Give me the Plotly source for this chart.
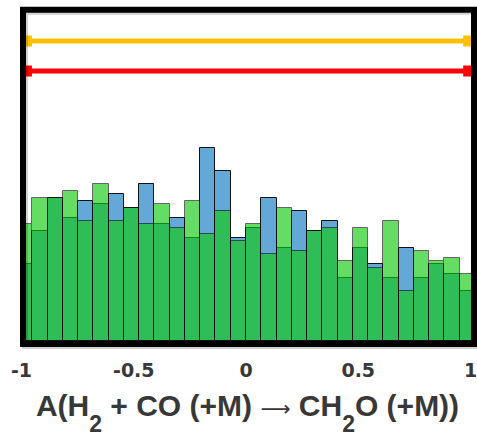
import plotly.graph_objects as go

# Histogram bins: 30 bins spanning [-1.02, 1.02]
bin_width = 0.068
bin_centers = [round(-1.02 + bin_width / 2 + i * bin_width, 4) for i in range(30)]

# Sample counts per bin for the two distributions (1000 samples each)
counts_blue = [23, 33, 43, 37, 42, 41, 44, 40, 47, 35,
               37, 31, 58, 51, 31, 34, 43, 28, 39, 33,
               36, 19, 28, 23, 19, 28, 19, 23, 20, 15]
counts_green = [35, 43, 43, 45, 36, 47, 36, 40, 35, 41,
                34, 42, 32, 39, 30, 35, 26, 40, 27, 33,
                34, 24, 34, 22, 36, 15, 27, 24, 25, 20]

# Uncertainty ranges drawn as horizontal bars above the histogram
range_gold_x = [-0.978, 0.992]
range_gold_y = [90, 90]
range_red_x = [-0.978, 0.992]
range_red_y = [81, 81]

x_ticks = [-1, -0.5, 0, 0.5, 1]
x_tick_text = ["-1", "-0.5", "0", "0.5", "1"]

sub2 = '<span style="font-size:23px;baseline-shift:-16px">2</span>'
arrow = '<span style="font-family:DejaVu Sans;font-weight:normal;font-size:21px">\u27f6</span>'
x_title = "A(H" + sub2 + " + CO (+M) " + arrow + " CH" + sub2 + "O (+M))"

fig = go.Figure()

fig.add_trace(go.Bar(
    x=bin_centers, y=counts_blue, width=bin_width,
    marker=dict(color="rgb(100,168,216)", line=dict(color="#111111", width=1)),
    showlegend=False,
))
fig.add_trace(go.Bar(
    x=bin_centers, y=counts_green, width=bin_width,
    marker=dict(color="rgb(16,202,16)", line=dict(color="#111111", width=1)),
    opacity=0.64,
    showlegend=False,
))

fig.add_trace(go.Scatter(
    x=range_gold_x, y=range_gold_y, mode="lines+markers",
    line=dict(color="#FFC000", width=5),
    marker=dict(symbol="square", size=11, color="#FFC000"),
    showlegend=False,
))
fig.add_trace(go.Scatter(
    x=range_red_x, y=range_red_y, mode="lines+markers",
    line=dict(color="#FF0000", width=5),
    marker=dict(symbol="square", size=11, color="#FF0000"),
    showlegend=False,
))

W, H = 477, 437
ml, mr, mt, mb = 20, 0, 7, 90
pw, ph = W - ml - mr, H - mt - mb

def px_x(p):
    return (p - ml) / pw

def px_y(p):
    return (H - mb - p) / ph

# soft drop shadow, then the thick black frame around the plotting area
fig.add_shape(type="rect", xref="paper", yref="paper",
              x0=px_x(25), x1=px_x(478), y0=px_y(346), y1=px_y(11.7),
              line=dict(color="rgba(0,0,0,0.18)", width=6), layer="above")
fig.add_shape(type="rect", xref="paper", yref="paper",
              x0=px_x(23), x1=px_x(476), y0=px_y(344), y1=px_y(9.7),
              line=dict(color="black", width=6), layer="above")

fig.update_layout(
    width=W, height=H,
    margin=dict(l=ml, r=mr, t=mt, b=mb),
    barmode="overlay",
    bargap=0,
    plot_bgcolor="white",
    paper_bgcolor="white",
    xaxis=dict(
        range=[-1.0067, 1.02],
        tickvals=x_ticks, ticktext=x_tick_text,
        ticks="inside", ticklen=4, tickcolor="#888888",
        ticklabelstandoff=10,
        ticklabeloverflow="allow",
        showgrid=False, zeroline=False, showline=False,
        tickfont=dict(family="DejaVu Sans", size=19, color="#383838", weight="bold"),
        title=dict(
            text=x_title,
            font=dict(family="Liberation Sans, Arial", size=30, color="#383838", weight="bold"),
            standoff=17,
        ),
    ),
    yaxis=dict(
        range=[-1.8, 100.2],
        tickvals=[50],
        ticks="inside", ticklen=4, tickcolor="#888888",
        showticklabels=False,
        showgrid=False, zeroline=False, showline=False,
        mirror="ticks",
    ),
)

fig.write_html("out.html")
